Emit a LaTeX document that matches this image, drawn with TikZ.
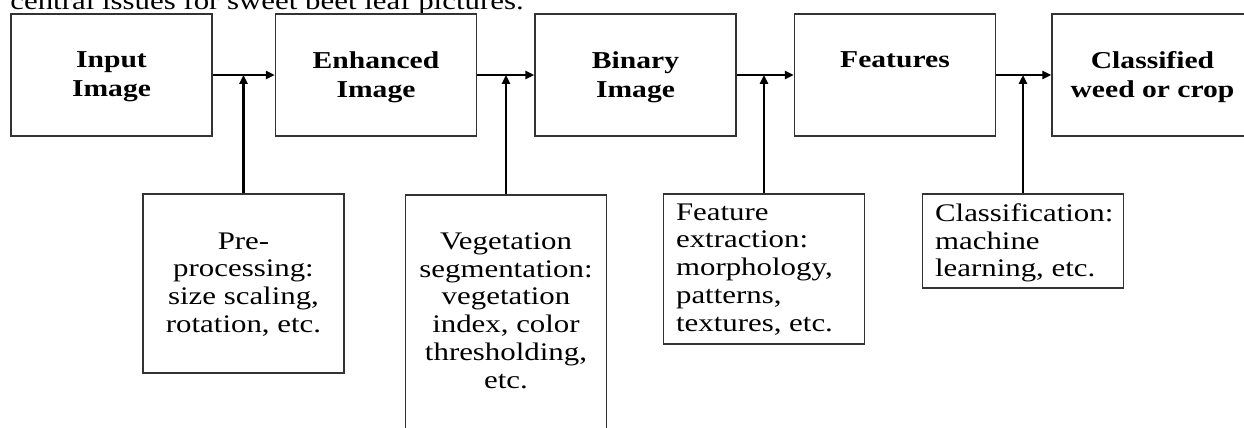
\documentclass[tikz,border=0pt]{standalone}
\usepackage{fontspec}
\setmainfont{Liberation Serif}[FakeStretch=1.22]
\usetikzlibrary{arrows.meta}

\tikzset{
  stagebox/.style={draw=black!80, line width=0.9pt, minimum width=4.02cm, inner sep=0pt},
  stagetext/.style={anchor=north, inner sep=0pt, align=center,
    font=\bfseries\fontsize{13.8}{16.5}\selectfont},
  steptext/.style={inner sep=0pt, font=\fontsize{14.4}{15.8}\selectfont},
  flow/.style={line width=1.4pt, -{Triangle[length=5pt, width=4.5pt]}},
}

\begin{document}
\begin{tikzpicture}[x=0.02cm, y=-0.02cm]

    \useasboundingbox (0, 0) rectangle (1244, 427);

    % cut-off line of running text
    \node[steptext, anchor=base west] (caption) at (10, 9) {central issues for sweet beet leaf pictures.};

    % Top row
    \node[stagebox, minimum height=2.44cm] (input) at (111.5, 75) {};
    \node[stagebox, minimum height=2.44cm] (enhanced) at (376, 75) {};
    \node[stagebox, minimum height=2.44cm] (binary) at (635.5, 75) {};
    \node[stagebox, minimum height=2.44cm] (features) at (895, 75) {};
    \node[stagebox, minimum height=2.44cm] (classified) at (1152.5, 75) {};

    \node[stagetext] (input-t) at ([yshift=-0.76cm]input.north) {Input\\Image};
    \node[stagetext] (enhanced-t) at ([yshift=-0.76cm]enhanced.north) {Enhanced\\Image};
    \node[stagetext] (binary-t) at ([yshift=-0.76cm]binary.north) {Binary\\Image};
    \node[stagetext] (features-t) at ([yshift=-0.76cm]features.north) {Features};
    \node[stagetext] (classified-t) at ([yshift=-0.76cm]classified.north) {Classified\\weed or crop};

    % Bottom row
    \node[stagebox, minimum height=3.58cm] (preproc) at (243.5, 283.5) {};
    \node[stagebox, minimum height=5cm] (vegseg) at (506, 320) {};
    \node[stagebox, minimum height=3cm] (featext) at (764, 269) {};
    \node[stagebox, minimum height=1.88cm] (classif) at (1023, 241) {};

    \node[steptext, anchor=north, align=center] (preproc-t) at ([yshift=-0.78cm]preproc.north)
        {Pre-\\processing:\\size scaling,\\rotation, etc.};
    \node[steptext, anchor=north, align=center] (vegseg-t) at ([yshift=-0.76cm]vegseg.north)
        {Vegetation\\segmentation:\\vegetation\\index, color\\thresholding,\\etc.};
    \node[steptext, anchor=north west, align=left] (featext-t) at ([xshift=0.26cm, yshift=-0.2cm]featext.north west)
        {Feature\\extraction:\\morphology,\\patterns,\\textures, etc.};
    \node[steptext, anchor=north west, align=left] (classif-t) at ([xshift=0.26cm, yshift=-0.2cm]classif.north west)
        {Classification:\\machine\\learning, etc.};

    % Arrows
    \draw[flow] (input.east) -- (enhanced.west);
    \draw[flow] (enhanced.east) -- (binary.west);
    \draw[flow] (binary.east) -- (features.west);
    \draw[flow] (features.east) -- (classified.west);

    \draw[flow] (preproc.north) -- (preproc.north |- input.east);
    \draw[flow] (vegseg.north) -- (vegseg.north |- enhanced.east);
    \draw[flow] (featext.north) -- (featext.north |- binary.east);
    \draw[flow] (classif.north) -- (classif.north |- features.east);

\end{tikzpicture}
\end{document}
